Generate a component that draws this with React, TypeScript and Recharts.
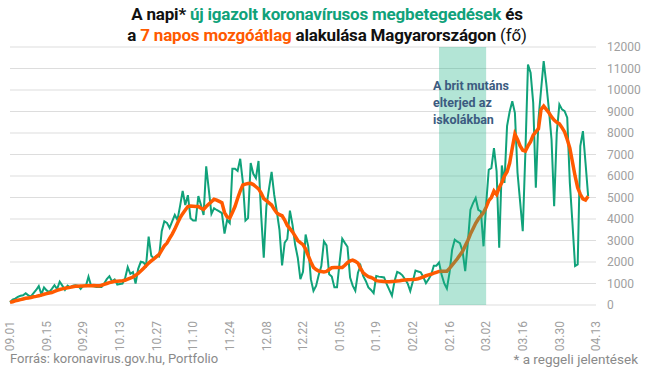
import { LineChart, Line, XAxis, YAxis, CartesianGrid, ReferenceArea } from 'recharts'

// napi új esetek (reggeli jelentések), 2020.09.01-től
const DAILY = [
  120, 250, 300, 380, 430, 450, 550, 450, 400, 550, 700, 880, 500, 820, 680, 600, 750, 920, 740, 1080,
  900, 700, 900, 820, 900, 920, 900, 750, 900, 880, 1320, 890, 870, 840, 850, 840, 1000, 1200, 1340, 1100,
  1190, 950, 980, 1000, 1250, 1760, 1450, 1530, 1000, 1680, 2010, 1980, 1830, 3180, 2290, 2170, 2290, 2260, 3430, 3890,
  3820, 3590, 3890, 4190, 3960, 4600, 5310, 4650, 5110, 4040, 3930, 3930, 5070, 4650, 4190, 6450, 5350, 4240, 4500, 4420,
  4350, 4270, 3320, 3960, 3810, 6340, 6340, 6240, 6800, 5730, 3930, 4040, 6600, 6100, 5900, 6700, 4190, 2200, 4580, 5400,
  6190, 5120, 4350, 3500, 1840, 2900, 3070, 4390, 3730, 2800, 2200, 1200, 1540, 3280, 2730, 1200, 660, 890, 1400, 1810,
  2960, 2770, 1430, 1320, 820, 820, 2000, 3080, 2890, 2710, 1280, 900, 660, 1500, 1820, 1350, 1120, 820, 700, 550,
  1350, 1320, 1300, 1280, 970, 700, 430, 1120, 1540, 1480, 1380, 1200, 1000, 650, 1100, 1600, 1560, 1520, 1300, 1020,
  1200, 1410, 1830, 1830, 1980, 1410, 1000, 760, 1490, 2570, 3040, 2950, 2880, 2500, 1570, 2880, 4430, 4740, 4980, 4430,
  4360, 2730, 4670, 6290, 6370, 7300, 6230, 2660, 6490, 5680, 8320, 9000, 9480, 8940, 6150, 4800, 3430, 7080, 11180, 10800,
  9400, 5450, 8630, 10000, 11340, 10300, 9090, 7700, 4600, 8010, 9330, 9100, 9020, 8710, 5680, 3800, 1810, 1890, 7390, 8090,
  6600, 5060,
]

// 7 napos mozgóátlag
const AVG = [
  120, 150, 190, 220, 250, 280, 310, 330, 350, 380, 400, 430, 460, 500, 530, 560, 580, 630, 680, 720,
  750, 780, 800, 820, 850, 870, 875, 880, 885, 890, 895, 900, 910, 900, 890, 920, 960, 1000, 1040, 1070,
  1100, 1110, 1120, 1130, 1150, 1200, 1250, 1300, 1380, 1470, 1580, 1700, 1820, 1950, 2050, 2150, 2250, 2350, 2550, 2750,
  2880, 3100, 3300, 3530, 3800, 4050, 4250, 4420, 4580, 4600, 4590, 4580, 4580, 4500, 4450, 4580, 4700, 4800, 4920, 4880,
  4820, 4760, 4300, 4100, 4040, 4300, 4580, 4950, 5300, 5580, 5620, 5650, 5660, 5600, 5500, 5400, 5200, 4950, 4850, 4750,
  4650, 4450, 4280, 4200, 4150, 3950, 3700, 3550, 3400, 3200, 3000, 2900, 2810, 2600, 2300, 2000, 1750, 1650, 1580, 1560,
  1540, 1560, 1650, 1730, 1740, 1740, 1740, 1740, 1850, 1970, 2050, 2090, 2030, 1950, 1700, 1500, 1400, 1320, 1280, 1220,
  1130, 1110, 1100, 1090, 1080, 1080, 1090, 1100, 1120, 1130, 1150, 1160, 1170, 1180, 1190, 1200, 1220, 1260, 1310, 1360,
  1400, 1430, 1480, 1520, 1560, 1570, 1570, 1570, 1700, 1850, 2000, 2150, 2330, 2500, 2750, 3000, 3300, 3550, 3800, 4000,
  4150, 4300, 4550, 4850, 5000, 5300, 5140, 5450, 5700, 6000, 6200, 6600, 7300, 7950, 7700, 7400, 7200, 7160, 7400, 7600,
  7900, 8050, 8200, 9100, 9250, 9100, 8940, 8750, 8600, 8500, 8430, 8250, 8050, 7700, 7300, 6650, 6000, 5450, 5150, 4940,
  4880, 5060,
]

const TICKS = ['09.01', '09.15', '09.29', '10.13', '10.27', '11.10', '11.24', '12.08', '12.22',
  '01.05', '01.19', '02.02', '02.16', '03.02', '03.16', '03.30', '04.13']
const Y_TICKS = [0, 1000, 2000, 3000, 4000, 5000, 6000, 7000, 8000, 9000, 10000, 11000, 12000]
const BAND = ['02.12', '03.02']

const GREEN = '#10a27a'
const ORANGE = '#ff5a00'
const FONT = "'Roboto', sans-serif"

// dátumok 09.01-től 04.13-ig
const DATES: string[] = []
for (let i = 0; i <= 224; i++) {
  const d = new Date(Date.UTC(2020, 8, 1) + i * 86400000)
  DATES.push(String(d.getUTCMonth() + 1).padStart(2, '0') + '.' + String(d.getUTCDate()).padStart(2, '0'))
}

const data = DATES.map((date, i) => ({
  date,
  daily: i < DAILY.length ? DAILY[i] : null,
  avg: i < AVG.length ? AVG[i] : null,
}))

const DateTick = (props: any) => {
  const { x, y, payload } = props
  return (
    <text
      transform={`translate(${x},${y + 8}) rotate(-90)`}
      textAnchor="end"
      dy="0.35em"
      fill="#a0a0a0"
      fontSize={12}
      fontFamily={FONT}
    >
      {payload.value}
    </text>
  )
}

export default function App() {
  return (
    <div style={{ position: 'absolute', left: 0, top: 0, width: 650, height: 370, background: '#fff', fontFamily: FONT }}>
      <div style={{ position: 'absolute', left: 2, top: 4, width: 650, textAlign: 'center', fontSize: 17, fontWeight: 700, lineHeight: '21px', color: '#111', letterSpacing: -0.2 }}>
        <div>A napi* <span style={{ color: GREEN }}>új igazolt koronavírusos megbetegedések</span> és</div>
        <div>a <span style={{ color: ORANGE }}>7 napos mozgóátlag</span> alakulása Magyarországon <span style={{ fontWeight: 400 }}>(fő)</span></div>
      </div>

      <LineChart width={650} height={370} data={data} margin={{ top: 47, right: 14, left: 10, bottom: 25 }}>
        <CartesianGrid vertical={false} stroke="#dddddd" />
        <XAxis
          dataKey="date"
          ticks={TICKS}
          interval={0}
          tick={<DateTick />}
          tickLine={false}
          axisLine={false}
          height={40}
        />
        <YAxis
          orientation="right"
          domain={[0, 12000]}
          ticks={Y_TICKS}
          interval={0}
          tickLine={false}
          axisLine={false}
          tickSize={0}
          tickMargin={11}
          width={40}
          tick={{ fill: '#a0a0a0', fontSize: 12, fontFamily: FONT, textAnchor: 'start' }}
        />
        <Line type="linear" dataKey="daily" stroke={GREEN} strokeWidth={2} dot={false} isAnimationActive={false} />
        <Line type="linear" dataKey="avg" stroke={ORANGE} strokeWidth={3.5} dot={false} isAnimationActive={false} />
        <ReferenceArea x1={BAND[0]} x2={BAND[1]} fill="#1fb286" fillOpacity={0.34} stroke="none" zIndex={450} />
      </LineChart>

      <div style={{ position: 'absolute', left: 433, top: 77, fontSize: 12.5, fontWeight: 700, lineHeight: '17px', color: '#3b5b80' }}>
        A brit mutáns<br />elterjed az<br />iskolákban
      </div>

      <div style={{ position: 'absolute', left: 10, top: 351, fontSize: 13, color: '#8a8a8a' }}>
        Forrás: koronavirus.gov.hu, Portfolio
      </div>
      <div style={{ position: 'absolute', right: 12, top: 351, fontSize: 13.5, color: '#8a8a8a' }}>
        * a reggeli jelentések
      </div>
    </div>
  )
}
